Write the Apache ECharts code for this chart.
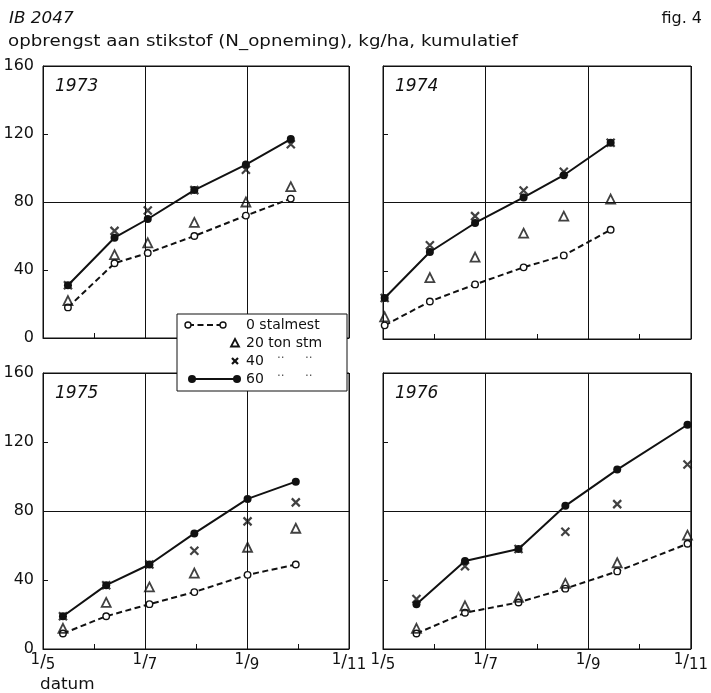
<!DOCTYPE html>
<html>
<head>
<meta charset="utf-8">
<script src="https://cdn.jsdelivr.net/npm/echarts@6/dist/echarts.min.js"></script>
<style>
  html, body { margin: 0; padding: 0; background: #fff; }
  #chart { width: 711px; height: 693px; }
</style>
</head>
<body>
<div id="chart"></div>
<script>
// dagen na 1 mei waarop bemonsterd is
const dagen1973 = [15, 43, 63, 91, 122, 149];
const dagen1974 = [1, 28, 55, 84, 108, 136];
const dagen1975 = [12, 38, 64, 91, 123, 152];
const dagen1976 = [20, 49, 81, 109, 140, 182];

// N-opname kg/ha, per stalmestgift
const stalmest0_1973 = [18, 44, 50, 60, 72, 82];
const stalmest20_1973 = [22, 49, 56, 68, 80, 89];
const stalmest40_1973 = [31, 63, 75, 87, 99, 114];
const stalmest60_1973 = [31, 59, 70, 87, 102, 117];

const stalmest0_1974 = [8, 22, 32, 42, 49, 64];
const stalmest20_1974 = [13, 36, 48, 62, 72, 82];
const stalmest40_1974 = [24, 55, 72, 87, 98, 115];
const stalmest60_1974 = [24, 51, 68, 83, 96, 115];

const stalmest0_1975 = [9, 19, 26, 33, 43, 49];
const stalmest20_1975 = [12, 27, 36, 44, 59, 70];
const stalmest40_1975 = [19, 37, 49, 57, 74, 85];
const stalmest60_1975 = [19, 37, 49, 67, 87, 97];

const stalmest0_1976 = [9, 21, 27, 35, 45, 61];
const stalmest20_1976 = [12, 25, 30, 38, 50, 66];
const stalmest40_1976 = [29, 48, 58, 68, 84, 107];
const stalmest60_1976 = [26, 51, 58, 83, 104, 130];

const jaren = ['1973', '1974', '1975', '1976'];
const reeksNamen = ['0 stalmest', '20 ton stm', '40 ton stm', '60 ton stm'];
const maandLabels = ['1/5', '', '1/7', '', '1/9', '', '1/11'];
const yTicks = [0, 40, 80, 120, 160];

const panels = [
  { jaar: jaren[0], dagen: dagen1973, reeksen: [stalmest0_1973, stalmest20_1973, stalmest40_1973, stalmest60_1973] },
  { jaar: jaren[1], dagen: dagen1974, reeksen: [stalmest0_1974, stalmest20_1974, stalmest40_1974, stalmest60_1974] },
  { jaar: jaren[2], dagen: dagen1975, reeksen: [stalmest0_1975, stalmest20_1975, stalmest40_1975, stalmest60_1975] },
  { jaar: jaren[3], dagen: dagen1976, reeksen: [stalmest0_1976, stalmest20_1976, stalmest40_1976, stalmest60_1976] }
];

const INK = '#111';
const FONT = 'DejaVu Sans';
const X_MAX = 184; // 1 mei .. 1 november
const maandStap = X_MAX / 6;

const grids = [
  { left: 43, top: 66, width: 306, height: 272 },
  { left: 383, top: 66, width: 308, height: 273 },
  { left: 43, top: 373, width: 306, height: 276 },
  { left: 383, top: 373, width: 308, height: 276 }
];

const reeksStijl = [
  {
    type: 'line', symbol: 'circle', symbolSize: 6.5,
    lineStyle: { color: INK, width: 2, type: [6, 3.5] },
    itemStyle: { color: '#fff', borderColor: INK, borderWidth: 1.4 }
  },
  {
    type: 'scatter', symbol: 'triangle', symbolSize: 9,
    itemStyle: { color: 'rgba(0,0,0,0)', borderColor: INK, borderWidth: 1.8 }
  },
  {
    type: 'scatter', symbol: 'path://M0,0L10,10M10,0L0,10', symbolSize: 8,
    itemStyle: { color: 'rgba(0,0,0,0)', borderColor: INK, borderWidth: 2.2 }
  },
  {
    type: 'line', symbol: 'circle', symbolSize: 8,
    lineStyle: { color: INK, width: 2 },
    itemStyle: { color: INK }
  }
];

const xLabel = v => {
  const l = maandLabels[Math.round(v / maandStap)];
  if (!l) return '';
  const [t, n] = l.split('/');
  return '{t|' + t + '}{s|/}{n|' + n + '}';
};

const xAxes = [];
const yAxes = [];
const series = [];

panels.forEach((p, i) => {
  const onder = i >= 2;
  const links = i % 2 === 0;
  xAxes.push({
    type: 'value', gridIndex: i, min: 0, max: X_MAX, interval: maandStap,
    axisLine: { show: true, lineStyle: { color: INK, width: 1 } },
    axisTick: { show: true, inside: true, length: 5, lineStyle: { color: INK } },
    splitLine: { show: false },
    axisLabel: {
      show: onder, margin: 4, formatter: xLabel, color: INK,
      rich: {
        t: { fontFamily: FONT, fontSize: 15, lineHeight: 15, verticalAlign: 'top', color: INK },
        s: { fontFamily: FONT, fontSize: 17, lineHeight: 20, color: INK },
        n: { fontFamily: FONT, fontSize: 15, lineHeight: 15, verticalAlign: 'bottom', color: INK }
      }
    }
  });
  // alleen rasterlijnen op 1/7 en 1/9
  xAxes.push({
    type: 'value', gridIndex: i, min: 0, max: X_MAX, interval: X_MAX / 3,
    axisLine: { show: false }, axisTick: { show: false }, axisLabel: { show: false },
    splitLine: { show: true, lineStyle: { color: INK, width: 1 } }
  });
  yAxes.push({
    type: 'value', gridIndex: i, min: yTicks[0], max: yTicks[yTicks.length - 1], interval: 40,
    axisLine: { show: true, lineStyle: { color: INK, width: 1 } },
    axisTick: { show: true, inside: true, length: 5, lineStyle: { color: INK } },
    splitLine: { show: false },
    axisLabel: { show: links, margin: 9, color: INK, fontFamily: FONT, fontSize: 16 }
  });
  // alleen rasterlijn op 80
  yAxes.push({
    type: 'value', gridIndex: i, min: 0, max: 160, interval: 80,
    axisLine: { show: false }, axisTick: { show: false }, axisLabel: { show: false },
    splitLine: { show: true, lineStyle: { color: INK, width: 1 } }
  });

  p.reeksen.forEach((waarden, k) => {
    series.push(Object.assign({
      name: reeksNamen[k],
      xAxisIndex: i * 2,
      yAxisIndex: i * 2,
      data: p.dagen.map((d, j) => [d, waarden[j]]),
      z: 3 + k
    }, reeksStijl[k]));
  });
});

const jaarTitels = panels.map((p, i) => ({
  text: p.jaar,
  left: grids[i].left + 7,
  top: grids[i].top + 7,
  textStyle: { fontFamily: FONT, fontSize: 17, fontStyle: 'italic', fontWeight: 'normal', color: INK }
}));

// koptekst, iets breder getrokken zoals de originele letters
const kop = [
  { type: 'text', x: 9, y: 19, scaleX: 1.05, style: { text: 'IB 2047', fill: INK, font: 'italic 16px "DejaVu Sans"', verticalAlign: 'middle' } },
  { type: 'text', x: 702, y: 19, style: { text: 'fig. 4', fill: INK, font: '16px "DejaVu Sans"', align: 'right', verticalAlign: 'middle' } },
  { type: 'text', x: 8, y: 42, scaleX: 1.14, style: { text: 'opbrengst aan stikstof (N_opneming), kg/ha, kumulatief', fill: INK, font: '16px "DejaVu Sans"', verticalAlign: 'middle' } },
  { type: 'text', x: 40, y: 685, scaleX: 1.05, style: { text: 'datum', fill: INK, font: '16px "DejaVu Sans"', verticalAlign: 'middle' } }
];

// legenda-kader, boven de panelranden
const LX = 177, LY = 314;
const rij = [11, 29, 47, 65];
const legendaDelen = [
  { type: 'rect', shape: { x: 0, y: 0, width: 170, height: 77 }, style: { fill: '#fff', stroke: INK, lineWidth: 1 } },
  { type: 'line', shape: { x1: 11, y1: rij[0], x2: 46, y2: rij[0] }, style: { stroke: INK, lineWidth: 2, lineDash: [6, 3.5] } },
  { type: 'circle', shape: { cx: 11, cy: rij[0], r: 3 }, style: { fill: '#fff', stroke: INK, lineWidth: 1.4 } },
  { type: 'circle', shape: { cx: 46, cy: rij[0], r: 3 }, style: { fill: '#fff', stroke: INK, lineWidth: 1.4 } },
  { type: 'polygon', shape: { points: [[58, rij[1] - 4], [62, rij[1] + 3.5], [54, rij[1] + 3.5]] }, style: { fill: 'none', stroke: INK, lineWidth: 1.8 } },
  { type: 'line', shape: { x1: 55, y1: rij[2] - 3, x2: 61, y2: rij[2] + 3 }, style: { stroke: INK, lineWidth: 2.2 } },
  { type: 'line', shape: { x1: 61, y1: rij[2] - 3, x2: 55, y2: rij[2] + 3 }, style: { stroke: INK, lineWidth: 2.2 } },
  { type: 'line', shape: { x1: 15, y1: rij[3], x2: 60, y2: rij[3] }, style: { stroke: INK, lineWidth: 2 } },
  { type: 'circle', shape: { cx: 15, cy: rij[3], r: 4 }, style: { fill: INK } },
  { type: 'circle', shape: { cx: 60, cy: rij[3], r: 4 }, style: { fill: INK } },
  ...['0 stalmest', '20 ton stm', '40', '60'].map((t, k) => ({
    type: 'text', x: 69, y: rij[k], style: { text: t, fill: INK, font: '14px "DejaVu Sans"', verticalAlign: 'middle' }
  })),
  ...[2, 3].flatMap(k => [100, 128].map(x => ({
    type: 'text', x: x, y: rij[k] - 2, style: { text: '··', fill: '#555', font: '12px "DejaVu Sans"', verticalAlign: 'middle' }
  })))
].map(d => Object.assign({ z: 100 }, d));

const legenda = { type: 'group', x: LX, y: LY, z: 100, children: legendaDelen };

const chart = echarts.init(document.getElementById('chart'));
chart.setOption({
  animation: false,
  backgroundColor: '#fff',
  title: jaarTitels,
  grid: grids.map(g => Object.assign({ show: true, borderColor: INK, borderWidth: 1, containLabel: false }, g)),
  xAxis: xAxes,
  yAxis: yAxes,
  series: series,
  graphic: { zlevel: 1, elements: [...kop, legenda] }
});
</script>
</body>
</html>
